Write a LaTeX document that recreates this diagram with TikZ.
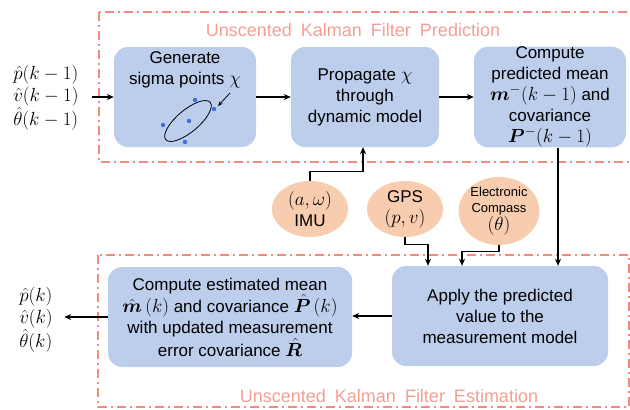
\RequirePackage{fix-cm}
\documentclass[tikz,border=0pt]{standalone}
\usepackage{amsmath,bm}
\usepackage{fontspec}
\setmainfont{Liberation Sans}
\DeclareMathSizes{17}{19}{14}{10}
\usetikzlibrary{arrows.meta,shapes.geometric}
\definecolor{boxblue}{RGB}{189,206,236}
\definecolor{sensorpeach}{RGB}{248,204,174}
\definecolor{framesalmon}{RGB}{242,138,128}
\definecolor{titlesalmon}{RGB}{244,158,148}
\definecolor{sigmablue}{RGB}{62,110,222}
\newcommand{\widewords}{\spaceskip 9pt\relax}
\tikzset{
  stagebox/.style   = {fill=boxblue,rounded corners=14pt,minimum width=#1,minimum height=100pt,align=center,inner sep=0pt},
  sensor/.style     = {ellipse,fill=sensorpeach,minimum width=76pt,minimum height=56pt,align=center,inner sep=0pt},
  flowarr/.style    = {-{Stealth[length=7pt,width=6pt]},line width=1.2pt},
  pointarr/.style   = {-{Stealth[length=5pt,width=4pt]},line width=0.8pt},
  framebox/.style   = {framesalmon,line width=1.4pt,dash pattern=on 9pt off 4pt on 2pt off 4pt},
  frametitle/.style = {titlesalmon,font=\fontsize{18}{22}\selectfont\widewords},
  statetext/.style  = {align=left,font=\fontsize{17}{22}\selectfont}
}

\begin{document}
\begin{tikzpicture}[x=1pt,y=-1pt,font=\fontsize{17}{21}\selectfont]
  \useasboundingbox (0,0) rectangle (630,410);
  \clip (0,0) rectangle (630,410);
  \draw[framebox] (99,12) rectangle (650,162);
  \draw[framebox] (98,255) rectangle (629,407);
  \node[frametitle] (predtitle) at (353,30)  {Unscented Kalman Filter Prediction};
  \node[frametitle] (esttitle)  at (389,396) {Unscented Kalman Filter Estimation};

  \node[stagebox=142pt] (gen)   at (185,97)  {};
  \node[anchor=north,align=center] (gentxt) at ([yshift=-1pt]gen.north) {Generate\\sigma points $\chi$};
  \node[stagebox=148pt] (prop)  at (365,97)  {Propagate $\chi$\\through\\dynamic model};
  \node[stagebox=152pt] (pred)  at (550,97)  {Compute\\predicted mean\\$\bm{m}^{-}(k-1)$ and\\covariance\\$\bm{P}^{-}(k-1)$};
  \node[sensor] (imu)  at (310,209) {$(a,\omega)$\\IMU};
  \node[sensor] (gps)  at (405,209) {GPS\\$(p,v)$};
  \node[sensor,font=\fontsize{13}{16}\selectfont] (comp) at (499,211) {Electronic\\Compass\\\fontsize{17}{18}\selectfont$(\theta)$};
  \node[stagebox=216pt] (apply) at (500,316) {Apply the predicted\\value to the\\measurement model};
  \node[stagebox=244pt] (est)   at (230,317) {Compute estimated mean\\$\bm{\hat m}\,(k)$ and covariance $\bm{\hat P}\,(k)$\\with updated measurement\\error covariance $\bm{\hat R}$};
  \node[statetext] (inp)  at (46,98)  {$\hat p(k-1)$\\$\hat v(k-1)$\\$\hat\theta(k-1)$};
  \node[statetext] (outp) at (36,320) {$\hat p(k)$\\$\hat v(k)$\\$\hat\theta(k)$};

  \draw[line width=0.8pt,rotate around={40:(188,121)}] (188,121) ellipse [x radius=29,y radius=11];
  \foreach \px/\py in {195/100,214/109,189/121,163/125,185/142}
    \fill[sigmablue] (\px,\py) circle (2.2pt);
  \coordinate (chitail) at (230,93);
  \coordinate (chihead) at (218,106);
  \draw[pointarr] (chitail) -- (chihead);

  \draw[flowarr] ([xshift=10pt]inp.east |- gen.west) -- (gen.west);
  \draw[flowarr] (gen) -- (prop);
  \draw[flowarr] (prop) -- (pred);
  \draw[flowarr] (imu.north) -- ++(0,-9) -| ([xshift=-2pt]prop.south);
  \draw[flowarr] (gps.south) -- ++(0,7) -| ([xshift=-72pt]apply.north);
  \draw[flowarr] (comp.south) -- ++(0,6) -| ([xshift=-38pt]apply.north);
  \draw[flowarr] ([xshift=8pt]pred.south) -- ([xshift=8pt]pred.south |- apply.north);
  \draw[flowarr] (apply.west) -- (apply.west -| est.east);
  \draw[flowarr] (est.west) -- ([xshift=8pt]outp.east |- est.west);
\end{tikzpicture}
\end{document}
